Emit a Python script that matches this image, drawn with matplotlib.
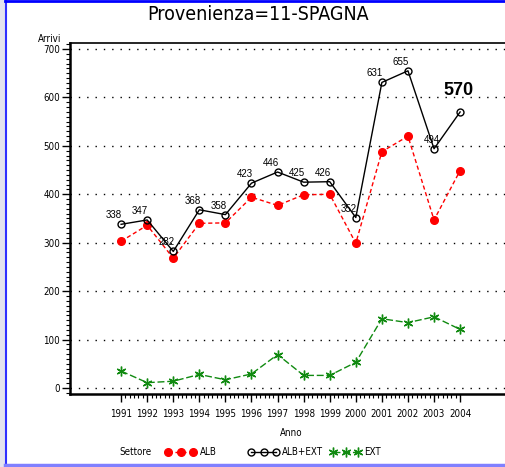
import matplotlib.pyplot as plt
from matplotlib.ticker import MultipleLocator, FixedLocator
from matplotlib.lines import Line2D
from matplotlib.patches import Rectangle

anni = [1991, 1992, 1993, 1994, 1995, 1996, 1997, 1998, 1999, 2000, 2001, 2002, 2003, 2004]
alb = [303, 336, 268, 340, 341, 394, 377, 399, 400, 299, 488, 520, 347, 449]
alb_ext = [338, 347, 282, 368, 358, 423, 446, 425, 426, 352, 631, 655, 494, 570]
ext = [35, 11, 14, 28, 17, 29, 69, 26, 26, 53, 143, 135, 147, 121]

W, H = 505, 467
NARROW = dict(family=['DejaVu Sans'], fontstretch='condensed')
GREEN = '#108a10'

fig = plt.figure(figsize=(W / 100, H / 100), dpi=100)

# frame of the output window
fig.patches.append(Rectangle((0, 0), 5 / W, 1, transform=fig.transFigure,
                             color='#e4e4ee', zorder=0))
fig.add_artist(Line2D([5.5 / W, 5.5 / W], [4 / H, 1], transform=fig.transFigure,
                      color='#3030ff', lw=1.5))
fig.add_artist(Line2D([5 / W, 1], [2.5 / H, 2.5 / H], transform=fig.transFigure,
                      color='#8080ff', lw=2.5))
fig.add_artist(Line2D([5 / W, 1], [1 - 0.8 / H, 1 - 0.8 / H], transform=fig.transFigure,
                      color='#0000ff', lw=2))

ax = fig.add_axes([70 / W, (H - 394) / H, 460 / W, 351 / H])

stili = {
    'ALB': dict(color='red', ls=(0, (3, 2)), lw=1, marker='o', ms=5.5,
                mfc='red', mec='red'),
    'ALB+EXT': dict(color='black', ls='-', lw=1, marker='o', ms=5,
                    mfc='none', mec='black', mew=1),
    'EXT': dict(color=GREEN, ls=(0, (5, 2)), lw=1, marker=(6, 2, 0), ms=7,
                mec=GREEN, mew=1),
}

ax.plot(anni, alb, zorder=3, **stili['ALB'])
ax.plot(anni, alb_ext, zorder=4, **stili['ALB+EXT'])
ax.plot(anni, ext, zorder=3, **stili['EXT'])

for i, (a, v) in enumerate(zip(anni, alb_ext)):
    if i == len(anni) - 1:
        ax.annotate(str(v), (a, v), xytext=(-2, 21), textcoords='offset pixels',
                    ha='center', va='center', fontsize=13, fontweight='bold',
                    family='Liberation Sans')
    else:
        dx = -2 if a == 2003 else -7
        ax.annotate(str(v), (a, v), xytext=(dx, 9), textcoords='offset pixels',
                    ha='center', va='center', fontsize=7, family='Liberation Sans')

ax.set_xlim(1989.04, 2006.68)
ax.set_ylim(-12.4, 712.4)
ax.set_xticks(anni)
ax.set_xticklabels([str(a) for a in anni])
ax.xaxis.set_minor_locator(FixedLocator(
    [1991 + k / 6 for k in range(0, 13 * 6 + 1) if k % 6 != 0]))
ax.set_yticks(range(0, 701, 100))
ax.yaxis.set_minor_locator(MultipleLocator(10))

for y in range(0, 701, 100):
    ax.axhline(y, color='black', lw=1, ls=(0, (1, 5)), zorder=1)

for s in ['left', 'bottom']:
    ax.spines[s].set_linewidth(1.8)
ax.spines['top'].set_linewidth(1.2)
ax.spines['right'].set_visible(False)

ax.tick_params(axis='both', which='major', direction='out', length=6, width=1,
               labelsize=7)
ax.tick_params(axis='both', which='minor', direction='out', length=3, width=0.8)
ax.tick_params(axis='x', pad=5)
ax.tick_params(axis='y', pad=1)
for lab in ax.get_xticklabels() + ax.get_yticklabels():
    lab.set_fontfamily(NARROW['family'])
    lab.set_fontstretch('condensed')

fig.text(258 / W, 1 - 15 / H, 'Provenienza=11-SPAGNA', ha='center', va='center',
         fontsize=14, **NARROW)
fig.text(50 / W, 1 - 39 / H, 'Arrivi', ha='center', va='center', fontsize=7,
         **NARROW)
fig.text(291 / W, 1 - 433 / H, 'Anno', ha='center', va='center', fontsize=7,
         **NARROW)

# legend row, laid out by hand like the original
yl = 1 - 452 / H
fig.text(135 / W, yl, 'Settore', ha='center', va='center', fontsize=7, **NARROW)
voci = [('ALB', 168, 200), ('ALB+EXT', 251, 282), ('EXT', 333, 364)]
for nome, x0, xt in voci:
    st = dict(stili[nome])
    st['markevery'] = [0, 1, 2]
    fig.add_artist(Line2D([x0 / W, (x0 + 12.5) / W, (x0 + 25) / W], [yl, yl, yl],
                          transform=fig.transFigure, **st))
    fig.text(xt / W, yl, nome, ha='left', va='center', fontsize=7, **NARROW)

fig.savefig('out.png', dpi=100)
